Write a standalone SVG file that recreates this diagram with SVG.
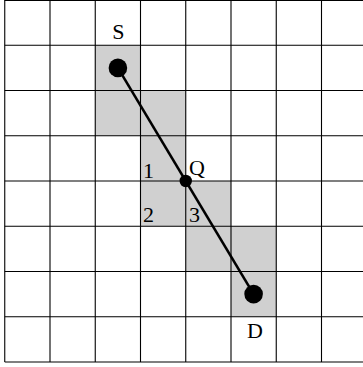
<svg xmlns="http://www.w3.org/2000/svg" width="363" height="367" viewBox="0 0 363 367">
<style>
.cell{fill:#d0d0d0;stroke:none}
.grid{stroke:#000;stroke-width:1.1;fill:none}
.lbl{font-family:"Liberation Serif","Times New Roman",serif;font-size:22px;fill:#000}
.path{stroke:#000;stroke-width:2.6;fill:none}
</style>
<rect x="0" y="0" width="363" height="367" fill="#fff"/>
<g id="shading">
<rect class="cell" x="95.25" y="45.25" width="45.25" height="45.25"/>
<rect class="cell" x="95.25" y="90.5" width="90.5" height="45.25"/>
<rect class="cell" x="140.5" y="135.75" width="45.25" height="45.25"/>
<rect class="cell" x="140.5" y="181" width="90.5" height="45.25"/>
<rect class="cell" x="185.75" y="226.25" width="90.5" height="45.25"/>
<rect class="cell" x="231" y="271.5" width="45.25" height="45.25"/>
</g>
<g id="grid" class="grid">
<path d="M4.75 0V362M50 0V362M95.25 0V362M140.5 0V362M185.75 0V362M231 0V362M276.25 0V362M321.5 0V362"/>
<path d="M4.75 0.5H363M4.75 45.25H363M4.75 90.5H363M4.75 135.75H363M4.75 181H363M4.75 226.25H363M4.75 271.5H363M4.75 316.75H363M4.75 362H363"/>
</g>
<g id="connectors">
<line class="path" x1="117.9" y1="67.9" x2="253.6" y2="294.1"/>
</g>
<g id="node-S">
<circle cx="117.9" cy="67.9" r="9.3" fill="#000"/>
<text class="lbl" x="118.3" y="39" text-anchor="middle">S</text>
</g>
<g id="node-Q">
<circle cx="185.75" cy="181" r="6.2" fill="#000"/>
<text class="lbl" x="189" y="175">Q</text>
</g>
<g id="node-D">
<circle cx="253.6" cy="294.1" r="9.3" fill="#000"/>
<text class="lbl" x="255" y="338" text-anchor="middle">D</text>
</g>
<g id="cell-labels">
<text class="lbl" x="143" y="178">1</text>
<text class="lbl" x="143" y="222">2</text>
<text class="lbl" x="189" y="222">3</text>
</g>
</svg>
